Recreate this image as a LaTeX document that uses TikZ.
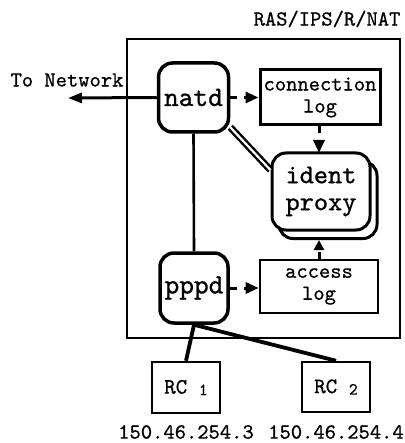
\documentclass[tikz,border=0pt]{standalone}
\usepackage{fontspec}
\usetikzlibrary{arrows.meta,calc}
\newfontfamily\courfont{lmmono10-regular}[Extension=.otf,FakeBold=0.7]
\newfontfamily\courbig{lmmono10-regular}[Extension=.otf,FakeBold=0.9]
\tikzset{
  small txt/.style={font=\courfont\fontsize{21.5}{22}\selectfont, inner sep=0pt, align=center},
  big txt/.style={font=\courbig\fontsize{28}{27}\selectfont, align=center},
  proc/.style={draw, line width=3.5pt, rounded corners=14pt, fill=white, inner sep=0pt, big txt},
  logbox/.style={draw, line width=3pt, fill=white, inner sep=0pt, small txt},
  rcbox/.style={draw, line width=2.5pt, inner sep=0pt, font=\courfont\fontsize{22}{22}\selectfont},
  darr/.style={line width=3pt, dash pattern=on 7pt off 7pt, -{Triangle[length=13pt,width=11pt]}},
  wire/.style={line width=3.8pt},
}
\begin{document}
\begin{tikzpicture}[x=1pt,y=-1pt]
\useasboundingbox (0,0) rectangle (404,443);
% frame
\node[draw, line width=2.2pt, minimum width=273pt, minimum height=299pt, inner sep=0pt] (frame) at (263.5,188.5) {};
\node[small txt] (ras) at (327,19) {RAS/IPS/R/NAT};
\node[small txt] (tonet) at (67,80) {To Network};
\coordinate (net) at (68,98);
% processes
\node[proc, minimum width=70pt, minimum height=69pt] (natd) at (193.5,97.5) {natd};
\node[proc, minimum width=68pt, minimum height=70pt] (pppd) at (194,288) {pppd};
\node[proc, line width=3pt, minimum width=98pt, minimum height=77pt] (identback) at (328,200) {};
\node[proc, line width=3pt, minimum width=98pt, minimum height=77pt, font=\courbig\fontsize{27}{27}\selectfont] (ident) at (321,191.5) {ident\\proxy};
% logs
\node[logbox, minimum width=120pt, minimum height=55pt] (conn) at (320,97.5) {connection\\log};
\node[logbox, line width=2.6pt, minimum width=118pt, minimum height=53pt] (access) at (319,286.5) {access\\log};
% remote clients
\node[rcbox, minimum width=68pt, minimum height=51pt] (rc1) at (186,387.5) {RC {\fontsize{17}{17}\selectfont\raisebox{-1.5pt}{1}}};
\node[rcbox, minimum width=68pt, minimum height=50pt] (rc2) at (336,387) {RC {\fontsize{17}{17}\selectfont\raisebox{-1.5pt}{2}}};
\node[small txt] (ip1) at (186,432) {150.46.254.3};
\node[small txt] (ip2) at (336,432) {150.46.254.4};
% connectors
\draw[line width=3pt, -{Triangle[length=14pt,width=10pt]}] (natd.west) -- (net);
\draw[darr] (natd.east) -- (conn.west);
\draw[darr] (pppd.east) -- (pppd.east -| access.west);
\draw[darr] (conn.south -| 319,0) -- (319,153);
\draw[darr, dash pattern=on 7pt off 4pt, -{Triangle[length=10pt,width=10pt]}] (access.north) -- (access.north |- identback.south);
\draw[line width=2.4pt, double=white, double distance=2.2pt] (natd.-39) -- (ident.157);
\draw[line width=2.6pt] (natd.south) -- (pppd.north);
\draw[wire] (pppd.south) -- (rc1.north);
\draw[wire] (pppd.south) -- (rc2.north);
\end{tikzpicture}
\end{document}
